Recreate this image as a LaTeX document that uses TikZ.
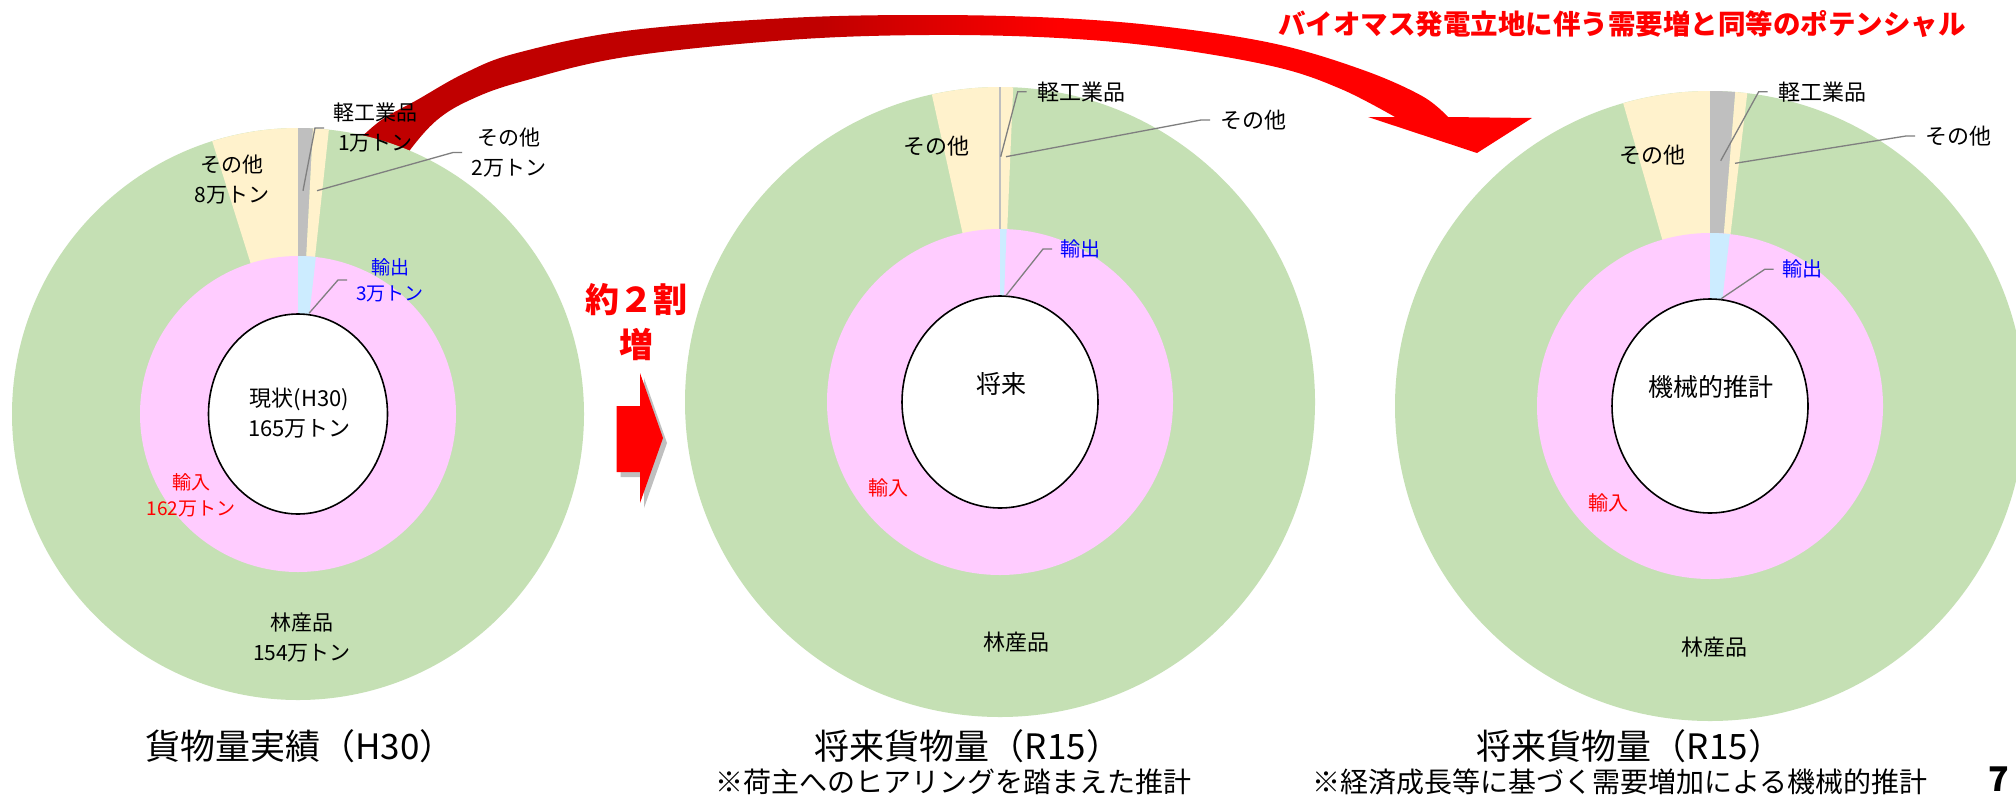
\documentclass[tikz,border=0pt]{standalone}
\usepackage{fontspec}
\setmainfont{Noto Sans CJK JP}
\usetikzlibrary{calc}
\definecolor{pgreen}{HTML}{C5E0B4}
\definecolor{ppink}{HTML}{FFCCFF}
\definecolor{pyellow}{HTML}{FFF2CC}
\definecolor{pgrey}{HTML}{BFBFBF}
\definecolor{pblue}{HTML}{CCECFF}
\definecolor{leadgrey}{HTML}{7F7F7F}
\definecolor{arrdark}{HTML}{C00000}
\definecolor{arrred}{HTML}{FF0000}
\definecolor{txtblue}{HTML}{0000FF}
\pgfdeclarehorizontalshading{bigarrowshade}{100bp}{color(0bp)=(arrdark); color(45bp)=(arrdark); color(55bp)=(arrred); color(100bp)=(arrred)}
\newcommand\piewedge[6]{\fill[#6] (#1) -- ++({#4-90}:#2 and #3) arc[start angle={#4-90}, end angle={#5-90}, x radius=#2, y radius=#3] -- cycle;}
\begin{document}
\begin{tikzpicture}[x=0.5pt,y=-0.5pt,
  lblA/.style={inner sep=0pt, align=center, font=\fontsize{10.5}{15}\selectfont},
  lblS/.style={inner sep=0pt, align=center, font=\fontsize{9.5}{13}\selectfont},
  lblB/.style={inner sep=0pt, align=center, font=\fontsize{11}{15}\selectfont},
  lblC/.style={inner sep=0pt, align=center, font=\fontsize{10}{13}\selectfont},
  ctr/.style={inner sep=0pt, align=center, font=\fontsize{12.5}{15}\selectfont},
  ttl/.style={inner sep=0pt, font=\fontsize{17.5}{21}\selectfont},
  sub/.style={inner sep=0pt, font=\fontsize{14}{17}\selectfont},
  leader/.style={draw=leadgrey, line width=0.65pt},
  hole/.style={draw=black, fill=white, line width=0.8pt}]
\useasboundingbox (0,0) rectangle (2016,798);
\fill[white] (0,0) rectangle (2016,798);

% big curved arrow (behind the charts)
\shade[shading=bigarrowshade]
  plot[smooth,tension=0.6] coordinates {(348,150) (380,121) (417,100) (465,73) (517,53) (625,31) (788,18) (929,15) (1059,18) (1168,27) (1276,44) (1363,70) (1422,96) (1448,117)}
  -- (1532,118) -- (1477,153) -- (1368,117)
  -- plot[smooth,tension=0.6] coordinates {(1395,117) (1341,89) (1276,67) (1168,48) (1059,38) (929,35) (788,40) (625,57) (520,82) (470,100) (437,120) (410,150) (395,175)}
  -- cycle;

% ---------- chart 1 ----------
\coordinate (c1) at (298,414);
\fill[pgreen] (c1) circle[radius=286];
\piewedge{c1}{286}{286}{-17.45}{0}{pyellow}
\piewedge{c1}{286}{286}{0}{3}{pgrey}
\piewedge{c1}{286}{286}{3}{6.2}{pyellow}
\fill[ppink] (c1) circle[radius=158];
\piewedge{c1}{158}{158}{0}{6.5}{pblue}
\path[hole] (c1) ellipse[x radius=89.5, y radius=100];

% ---------- chart 2 ----------
\coordinate (c2) at (1000,402);
\fill[pgreen] (c2) circle[radius=315];
\piewedge{c2}{315}{315}{-12.5}{0}{pyellow}
\piewedge{c2}{315}{315}{0}{2.4}{pyellow}
\draw[pgrey, line width=0.6pt] ($(c2)+(0,-173)$) -- ($(c2)+(0,-315)$);
\fill[ppink] (c2) circle[radius=173];
\piewedge{c2}{173}{173}{0}{2.2}{pblue}
\path[hole] (c2) ellipse[x radius=98, y radius=106];

% ---------- chart 3 ----------
\coordinate (c3) at (1710,406);
\fill[pgreen] (c3) circle[radius=315];
\piewedge{c3}{315}{315}{-16}{0}{pyellow}
\piewedge{c3}{315}{315}{0}{4.6}{pgrey}
\piewedge{c3}{315}{315}{4.6}{6.8}{pyellow}
\fill[ppink] (c3) circle[radius=173];
\piewedge{c3}{173}{173}{0}{6.6}{pblue}
\path[hole] (c3) ellipse[x radius=98, y radius=107];

% ---------- labels chart 1 ----------
\node[lblA, anchor=west] (k1) at (333,128) {軽工業品\\1万トン};
\node[lblA, anchor=west] (o1r) at (471,152.5) {その他\\2万トン};
\node[lblA] (o1l) at (232,180) {その他\\8万トン};
\node[lblS, anchor=west, text=txtblue] (e1) at (356,280) {輸出\\3万トン};
\node[lblB] (t1) at (299.5,413) {現状(H30)\\165万トン};
\node[lblS, text=red] (i1) at (191,495) {輸入\\162万トン};
\node[lblA] (f1) at (302,637.5) {林産品\\154万トン};
\coordinate (k1p) at (303,190.7);
\coordinate (o1p) at (317,190.7);
\coordinate (e1p) at (309,313.3);
\draw[leader] ($(k1.west)+(-9,0)$) -- ++(-9,0) -- (k1p);
\draw[leader] ($(o1r.west)+(-9,0)$) -- ++(-9,0) -- (o1p);
\draw[leader] ($(e1.west)+(-9,0)$) -- ++(-9,0) -- (e1p);

% ---------- labels chart 2 ----------
\node[lblB, anchor=west] (k2) at (1036.7,91.7) {軽工業品};
\node[lblB, anchor=west] (o2r) at (1220,120) {その他};
\node[lblB] (o2l) at (936,146) {その他};
\node[lblC, anchor=west, text=txtblue] (e2) at (1060,249) {輸出};
\node[ctr] (t2) at (1001,384) {将来};
\node[lblC, text=red] (i2) at (888,488) {輸入};
\node[lblB] (f2) at (1016.6,642.5) {林産品};
\coordinate (k2p) at (1000.7,156.7);
\coordinate (o2p) at (1006,156.7);
\coordinate (e2p) at (1006,295.5);
\draw[leader] ($(k2.west)+(-10,0)$) -- ++(-9,0) -- (k2p);
\draw[leader] ($(o2r.west)+(-10,0)$) -- ++(-9,0) -- (o2p);
\draw[leader] ($(e2.west)+(-8,0)$) -- ++(-9,0) -- (e2p);

% ---------- labels chart 3 ----------
\node[lblB, anchor=west] (k3) at (1777.7,91.7) {軽工業品};
\node[lblB, anchor=west] (o3r) at (1925,136) {その他};
\node[lblB] (o3l) at (1652,155) {その他};
\node[lblC, anchor=west, text=txtblue] (e3) at (1781.7,269.3) {輸出};
\node[ctr] (t3) at (1710.6,387) {機械的推計};
\node[lblC, text=red] (i3) at (1608,502.4) {輸入};
\node[lblB] (f3) at (1714.5,647) {林産品};
\coordinate (k3p) at (1720.7,160.7);
\coordinate (o3p) at (1735,163.3);
\coordinate (e3p) at (1720.7,299);
\draw[leader] ($(k3.west)+(-10,0)$) -- ++(-9,0) -- (k3p);
\draw[leader] ($(o3r.west)+(-10,0)$) -- ++(-9,0) -- (o3p);
\draw[leader] ($(e3.west)+(-8,0)$) -- ++(-9,0) -- (e3p);

% ---------- middle block arrow ----------
\fill[black, opacity=0.25] (620.7,411) -- (644,411) -- (644,378) -- (667,443) -- (644,508) -- (644,477) -- (620.7,477) -- cycle;
\fill[red] (616.7,406) -- (640,406) -- (640,373) -- (663,438) -- (640,503) -- (640,472) -- (616.7,472) -- cycle;
\node[inner sep=0pt, align=center, text=red, font=\fontsize{17}{22.5}\selectfont\bfseries] (inc) at (636.5,322.5) {約２割\\増};

% ---------- titles ----------
\node[inner sep=0pt, text=red, font=\fontsize{13.75}{16}\selectfont\bfseries] (top) at (1622,24) {バイオマス発電立地に伴う需要増と同等のポテンシャル};
\node[ttl] (b1) at (300,746) {貨物量実績（H30）};
\node[ttl] (b2) at (968,746) {将来貨物量（R15）};
\node[sub] (s2) at (953,782) {※荷主へのヒアリングを踏まえた推計};
\node[ttl] (b3) at (1630,746) {将来貨物量（R15）};
\node[sub] (s3) at (1620,782) {※経済成長等に基づく需要増加による機械的推計};
\node[inner sep=0pt, anchor=east, font=\fontsize{17}{20}\selectfont\bfseries] (pg) at (2010,779) {7};
\end{tikzpicture}
\end{document}
